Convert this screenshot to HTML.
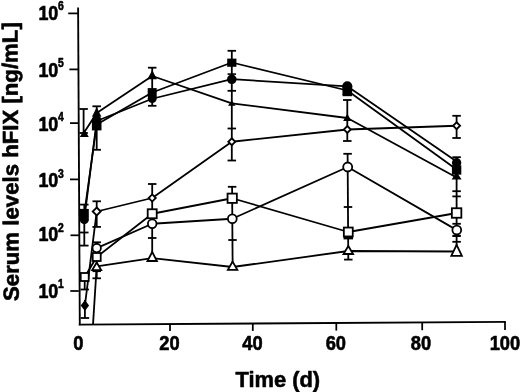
<!DOCTYPE html>
<html><head><meta charset="utf-8"><title>Serum levels hFIX</title>
<style>
html,body{margin:0;padding:0;background:#fff;}
svg{display:block;}
text{font-family:"Liberation Sans",sans-serif;font-weight:bold;fill:#000;stroke:#000;stroke-width:0.55px;stroke-linejoin:round;}
</style></head><body>
<svg width="520" height="392" viewBox="0 0 520 392">
<defs><clipPath id="plot"><rect x="78" y="0" width="440" height="324"/></clipPath></defs>
<rect width="520" height="392" fill="#fff"/>
<g clip-path="url(#plot)">
<polyline points="83.8,133 96.7,113 152.2,76 231.8,103.4 347.3,118 456.6,177.5" fill="none" stroke="#000" stroke-width="1.8" stroke-linejoin="round" />
<polyline points="84.3,213.5 96.7,124.5 152.2,92.5 231.8,62.5 347.3,90.5 456.6,169.5" fill="none" stroke="#000" stroke-width="1.8" stroke-linejoin="round" />
<polyline points="84.3,219 96.7,121 152.2,98.75 231.8,79.2 347.3,86.3 456.6,161.5" fill="none" stroke="#000" stroke-width="1.8" stroke-linejoin="round" />
<polyline points="84.9,305.5 96.7,211.5 152.2,198 231.8,141.75 347.3,129.5 456.6,125.75" fill="none" stroke="#000" stroke-width="1.8" stroke-linejoin="round" />
<polyline points="84.7,277 96.7,257 152.2,213.75 232.2,198.25 348.3,232 456.9,213" fill="none" stroke="#000" stroke-width="1.8" stroke-linejoin="round" />
<polyline points="96.7,248.1 152.2,223.75 232.3,218.75 347.7,167 456.9,230.1" fill="none" stroke="#000" stroke-width="1.8" stroke-linejoin="round" />
<polyline points="84.3,462 96.7,266.3 152.2,258.2 232.6,267 348.3,251 456.9,251.5" fill="none" stroke="#000" stroke-width="1.8" stroke-linejoin="round" />
</g>
<line x1="83.6" y1="109" x2="83.6" y2="133" stroke="#000" stroke-width="1.8" />
<line x1="79.35" y1="109" x2="87.85" y2="109" stroke="#000" stroke-width="1.8" />
<line x1="79.35" y1="133" x2="87.85" y2="133" stroke="#000" stroke-width="1.8" />
<line x1="84.3" y1="204.6" x2="84.3" y2="245.6" stroke="#000" stroke-width="1.8" />
<line x1="80.05" y1="204.6" x2="88.55" y2="204.6" stroke="#000" stroke-width="1.8" />
<line x1="80.05" y1="245.6" x2="88.55" y2="245.6" stroke="#000" stroke-width="1.8" />
<line x1="80.05" y1="232.5" x2="88.55" y2="232.5" stroke="#000" stroke-width="1.8" />
<line x1="84.7" y1="277" x2="84.7" y2="289.5" stroke="#000" stroke-width="1.8" />
<line x1="80.45" y1="289.5" x2="88.95" y2="289.5" stroke="#000" stroke-width="1.8" />
<line x1="84.9" y1="300" x2="84.9" y2="318" stroke="#000" stroke-width="1.8" />
<line x1="80.65" y1="318" x2="89.15" y2="318" stroke="#000" stroke-width="1.8" />
<line x1="96.7" y1="106.3" x2="96.7" y2="149.8" stroke="#000" stroke-width="1.8" />
<line x1="92.45" y1="106.3" x2="100.95" y2="106.3" stroke="#000" stroke-width="1.8" />
<line x1="92.45" y1="149.8" x2="100.95" y2="149.8" stroke="#000" stroke-width="1.8" />
<line x1="96.7" y1="201.3" x2="96.7" y2="226.9" stroke="#000" stroke-width="1.8" />
<line x1="92.45" y1="201.3" x2="100.95" y2="201.3" stroke="#000" stroke-width="1.8" />
<line x1="92.45" y1="226.9" x2="100.95" y2="226.9" stroke="#000" stroke-width="1.8" />
<line x1="96.7" y1="243" x2="96.7" y2="278.3" stroke="#000" stroke-width="1.8" />
<line x1="92.45" y1="278.3" x2="100.95" y2="278.3" stroke="#000" stroke-width="1.8" />
<line x1="92.45" y1="271.2" x2="100.95" y2="271.2" stroke="#000" stroke-width="1.8" />
<line x1="92.45" y1="242.3" x2="100.95" y2="242.3" stroke="#000" stroke-width="1.8" />
<line x1="152.2" y1="67.7" x2="152.2" y2="105.8" stroke="#000" stroke-width="1.8" />
<line x1="147.95" y1="67.7" x2="156.45" y2="67.7" stroke="#000" stroke-width="1.8" />
<line x1="147.95" y1="105.8" x2="156.45" y2="105.8" stroke="#000" stroke-width="1.8" />
<line x1="152.2" y1="184" x2="152.2" y2="238" stroke="#000" stroke-width="1.8" />
<line x1="147.95" y1="184" x2="156.45" y2="184" stroke="#000" stroke-width="1.8" />
<line x1="147.95" y1="238" x2="156.45" y2="238" stroke="#000" stroke-width="1.8" />
<line x1="152.2" y1="238" x2="152.2" y2="252" stroke="#000" stroke-width="1.8" />
<line x1="231.8" y1="50.8" x2="231.8" y2="90.8" stroke="#000" stroke-width="1.8" />
<line x1="227.55" y1="50.8" x2="236.05" y2="50.8" stroke="#000" stroke-width="1.8" />
<line x1="227.55" y1="90.8" x2="236.05" y2="90.8" stroke="#000" stroke-width="1.8" />
<line x1="231.8" y1="90.8" x2="231.8" y2="160.5" stroke="#000" stroke-width="1.8" />
<line x1="227.55" y1="160.5" x2="236.05" y2="160.5" stroke="#000" stroke-width="1.8" />
<line x1="227.55" y1="128.5" x2="236.05" y2="128.5" stroke="#000" stroke-width="1.8" />
<line x1="232.1" y1="186.8" x2="232.6" y2="262" stroke="#000" stroke-width="1.8" />
<line x1="227.85" y1="186.8" x2="236.35" y2="186.8" stroke="#000" stroke-width="1.8" />
<line x1="228.25" y1="240" x2="236.75" y2="240" stroke="#000" stroke-width="1.8" />
<line x1="342.55" y1="95.2" x2="352.05" y2="95.2" stroke="#000" stroke-width="2" />
<line x1="347.3" y1="100" x2="347.3" y2="141" stroke="#000" stroke-width="1.8" />
<line x1="343.05" y1="100" x2="351.55" y2="100" stroke="#000" stroke-width="1.8" />
<line x1="343.05" y1="141" x2="351.55" y2="141" stroke="#000" stroke-width="1.8" />
<line x1="347.6" y1="153.8" x2="348.3" y2="259.6" stroke="#000" stroke-width="1.8" />
<line x1="343.35" y1="153.8" x2="351.85" y2="153.8" stroke="#000" stroke-width="1.8" />
<line x1="344.05" y1="259.6" x2="352.55" y2="259.6" stroke="#000" stroke-width="1.8" />
<line x1="343.75" y1="207" x2="352.25" y2="207" stroke="#000" stroke-width="1.8" />
<line x1="343.55" y1="238.2" x2="353.05" y2="238.2" stroke="#000" stroke-width="2.4" />
<line x1="456.6" y1="115.8" x2="456.6" y2="138" stroke="#000" stroke-width="1.8" />
<line x1="452.35" y1="115.8" x2="460.85" y2="115.8" stroke="#000" stroke-width="1.8" />
<line x1="452.35" y1="138" x2="460.85" y2="138" stroke="#000" stroke-width="1.8" />
<line x1="456.6" y1="157.2" x2="456.6" y2="246" stroke="#000" stroke-width="1.8" />
<line x1="452.35" y1="157.2" x2="460.85" y2="157.2" stroke="#000" stroke-width="1.8" />
<line x1="452.35" y1="191.2" x2="460.85" y2="191.2" stroke="#000" stroke-width="1.8" />
<line x1="452.35" y1="196.4" x2="460.85" y2="196.4" stroke="#000" stroke-width="1.8" />
<line x1="452.35" y1="223.8" x2="460.85" y2="223.8" stroke="#000" stroke-width="1.8" />
<line x1="452.35" y1="235.9" x2="460.85" y2="235.9" stroke="#000" stroke-width="2.2" />
<line x1="452.35" y1="241.8" x2="460.85" y2="241.8" stroke="#000" stroke-width="1.8" />
<polygon points="84.3,129.4 88.8,137.0 79.8,137.0" fill="#000"/>
<polygon points="96.7,107.25 101.45,116.75 91.95,116.75" fill="#000"/>
<rect x="91.9" y="120.8" width="9.6" height="9.6" fill="#000"/>
<circle cx="96.7" cy="120" r="4.7" fill="#000"/>
<polygon points="152.2,70.2 157.0,79.2 147.4,79.2" fill="#000"/>
<rect x="147.7" y="88.1" width="9" height="9" fill="#000"/>
<circle cx="152.2" cy="98.6" r="4.5" fill="#000"/>
<rect x="227.2" y="58.6" width="9.2" height="8.2" fill="#000"/>
<circle cx="231.8" cy="79.3" r="4.8" fill="#000"/>
<line x1="227.55" y1="74.1" x2="236.05" y2="74.1" stroke="#000" stroke-width="1.6" />
<polygon points="231.8,100.2 235.6,105.8 228.0,105.8" fill="#000"/>
<circle cx="347.3" cy="86.3" r="5" fill="#000"/>
<rect x="342.45" y="85.25" width="9.7" height="9.7" fill="#000"/>
<polygon points="347.3,113.7 351.5,120.9 343.1,120.9" fill="#000"/>
<circle cx="456.6" cy="162.8" r="4.7" fill="#000"/>
<rect x="451.9" y="165.3" width="9.4" height="9.4" fill="#000"/>
<polygon points="456.6,172.1 461.6,179.5 451.6,179.5" fill="#000"/>
<rect x="79.8" y="208.9" width="9" height="9" fill="#000"/>
<circle cx="84.3" cy="219.6" r="4.6" fill="#000"/>
<polygon points="84.9,299.9 89.1,305.5 84.9,311.1 80.7,305.5" fill="#000"/>
<polygon points="96.7,207.5 100.7,211.5 96.7,215.5 92.7,211.5" fill="#fff" stroke="#000" stroke-width="1.8"/>
<polygon points="152.2,194.4 155.8,198 152.2,201.6 148.6,198" fill="#fff" stroke="#000" stroke-width="1.8"/>
<polygon points="231.8,138.25 235.3,141.75 231.8,145.25 228.3,141.75" fill="#fff" stroke="#000" stroke-width="1.8"/>
<polygon points="347.3,126.0 350.8,129.5 347.3,133.0 343.8,129.5" fill="#fff" stroke="#000" stroke-width="1.8"/>
<polygon points="456.6,122.25 460.1,125.75 456.6,129.25 453.1,125.75" fill="#fff" stroke="#000" stroke-width="1.8"/>
<rect x="80.7" y="273.0" width="8" height="8" fill="#fff" stroke="#000" stroke-width="1.8"/>
<rect x="92.7" y="253.0" width="8" height="8" fill="#fff" stroke="#000" stroke-width="1.8"/>
<rect x="147.7" y="209.25" width="9" height="9" fill="#fff" stroke="#000" stroke-width="1.8"/>
<rect x="227.55" y="193.6" width="9.3" height="9.3" fill="#fff" stroke="#000" stroke-width="1.8"/>
<rect x="343.85" y="227.55" width="8.9" height="8.9" fill="#fff" stroke="#000" stroke-width="1.8"/>
<rect x="451.85" y="208.25" width="9.5" height="9.5" fill="#fff" stroke="#000" stroke-width="1.8"/>
<circle cx="96.7" cy="248.1" r="4.2" fill="#fff" stroke="#000" stroke-width="1.8"/>
<circle cx="152.2" cy="223.75" r="4.3" fill="#fff" stroke="#000" stroke-width="1.8"/>
<circle cx="232.3" cy="218.75" r="4.4" fill="#fff" stroke="#000" stroke-width="1.8"/>
<circle cx="347.7" cy="167" r="4.5" fill="#fff" stroke="#000" stroke-width="1.8"/>
<circle cx="456.8" cy="230.1" r="4.4" fill="#fff" stroke="#000" stroke-width="1.8"/>
<polygon points="96.7,262.55 101.2,270.05 92.2,270.05" fill="#fff" stroke="#000" stroke-width="1.8" stroke-linejoin="miter"/>
<polygon points="152.2,252.0 156.95,261.0 147.45,261.0" fill="#fff" stroke="#000" stroke-width="1.8" stroke-linejoin="miter"/>
<polygon points="232.6,261.6 237.35,269.8 227.85,269.8" fill="#fff" stroke="#000" stroke-width="1.8" stroke-linejoin="miter"/>
<polygon points="348.3,246.0 353.1,254.0 343.5,254.0" fill="#fff" stroke="#000" stroke-width="1.8" stroke-linejoin="miter"/>
<polygon points="456.6,244.8 461.85,255.8 451.35,255.8" fill="#fff" stroke="#000" stroke-width="1.8" stroke-linejoin="miter"/>
<line x1="78.1" y1="7.5" x2="79.8" y2="325.2" stroke="#000" stroke-width="1.85" />
<line x1="78.8" y1="324.6" x2="505.8" y2="321.9" stroke="#000" stroke-width="1.8" />
<line x1="68.2" y1="13.4" x2="78.8" y2="13.4" stroke="#000" stroke-width="1.75" />
<line x1="69.4" y1="69.4" x2="78.8" y2="69.4" stroke="#000" stroke-width="1.75" />
<line x1="70" y1="123.1" x2="78.8" y2="123.1" stroke="#000" stroke-width="1.75" />
<line x1="70" y1="179.4" x2="78.8" y2="179.4" stroke="#000" stroke-width="1.75" />
<line x1="70.5" y1="235.3" x2="78.8" y2="235.3" stroke="#000" stroke-width="1.75" />
<line x1="70.3" y1="291" x2="78.8" y2="291" stroke="#000" stroke-width="1.75" />
<line x1="170" y1="324.0" x2="170" y2="331.1" stroke="#000" stroke-width="1.75" />
<line x1="252.8" y1="323.5" x2="252.8" y2="330.9" stroke="#000" stroke-width="1.75" />
<line x1="336.3" y1="323.0" x2="336.3" y2="330.6" stroke="#000" stroke-width="1.75" />
<line x1="422.2" y1="322.4" x2="422.2" y2="330.2" stroke="#000" stroke-width="1.75" />
<line x1="505" y1="321.9" x2="505" y2="330" stroke="#000" stroke-width="1.75" />
<text transform="translate(38.4,19.8) scale(0.98,1.1)" font-size="18.3" text-anchor="start" >10</text>
<text transform="translate(57.9,10.2) scale(0.9,1.1)" font-size="11.5" text-anchor="start" >6</text>
<text transform="translate(38.4,76.5) scale(0.98,1.1)" font-size="18.3" text-anchor="start" >10</text>
<text transform="translate(57.9,66.9) scale(0.9,1.1)" font-size="11.5" text-anchor="start" >5</text>
<text transform="translate(38.4,130.6) scale(0.98,1.1)" font-size="18.3" text-anchor="start" >10</text>
<text transform="translate(57.9,121.0) scale(0.9,1.1)" font-size="11.5" text-anchor="start" >4</text>
<text transform="translate(38.4,187.1) scale(0.98,1.1)" font-size="18.3" text-anchor="start" >10</text>
<text transform="translate(57.9,177.5) scale(0.9,1.1)" font-size="11.5" text-anchor="start" >3</text>
<text transform="translate(38.4,241.2) scale(0.98,1.1)" font-size="18.3" text-anchor="start" >10</text>
<text transform="translate(57.9,231.6) scale(0.9,1.1)" font-size="11.5" text-anchor="start" >2</text>
<text transform="translate(38.4,297.9) scale(0.98,1.1)" font-size="18.3" text-anchor="start" >10</text>
<text transform="translate(57.9,288.3) scale(0.9,1.1)" font-size="11.5" text-anchor="start" >1</text>
<text transform="translate(78.3,350) scale(1,1.07)" font-size="18.3" text-anchor="middle" >0</text>
<text transform="translate(169.5,350) scale(1,1.07)" font-size="18.3" text-anchor="middle" >20</text>
<text transform="translate(252.4,350) scale(1,1.07)" font-size="18.3" text-anchor="middle" >40</text>
<text transform="translate(335.8,350) scale(1,1.07)" font-size="18.3" text-anchor="middle" >60</text>
<text transform="translate(421,350.4) scale(1,1.07)" font-size="18.3" text-anchor="middle" >80</text>
<text transform="translate(504.9,350.4) scale(1,1.07)" font-size="18.3" text-anchor="middle" >100</text>
<text transform="translate(277.8,386.9) scale(1,1.04)" font-size="21.9" text-anchor="middle" >Time (d)</text>
<text transform="translate(18.1,161.6) rotate(-90.3) scale(1.11,1.09)" font-size="20" text-anchor="middle">Serum levels hFIX [ng/mL]</text>
</svg>
</body></html>
